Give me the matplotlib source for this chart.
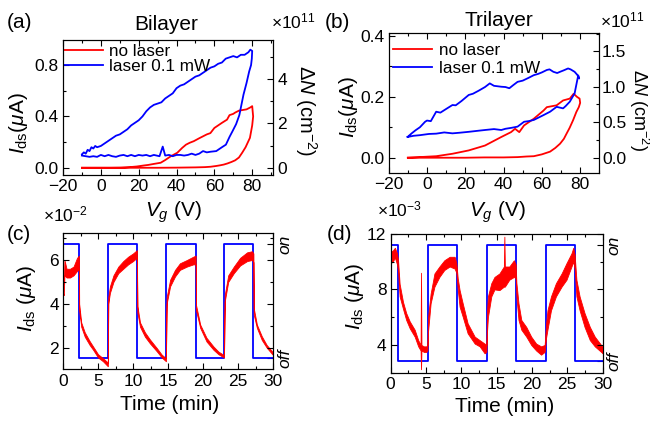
import matplotlib
matplotlib.use('Agg')
import matplotlib.pyplot as plt
from matplotlib.ticker import MultipleLocator, FormatStrFormatter

plt.rcParams['font.family'] = ['Liberation Sans', 'DejaVu Sans']
plt.rcParams['mathtext.fontset'] = 'custom'
plt.rcParams['mathtext.rm'] = 'Liberation Sans'
plt.rcParams['mathtext.it'] = 'Liberation Sans:italic'
plt.rcParams['mathtext.bf'] = 'Liberation Sans:bold'

# ---- (a) bilayer hysteresis ----
vg_a_dark = [-10, 0, 10, 20, 30, 40, 50, 55, 58, 61, 63, 65, 67, 69, 71, 73, 74.7, 76.5, 78.8, 80, 80.5,
             80, 79, 77, 75, 73, 71, 70, 68, 66.7, 64, 62, 60, 57.9, 56, 54, 52, 49.1, 47, 45, 43, 40.4,
             37, 34, 31.6, 28, 25, 22.8, 19, 16, 13, 10.5, 5, 0, -10]
ids_a_dark = [0, 0, 0, 0, 0, 0.001, 0.003, 0.005, 0.008, 0.014, 0.019, 0.025, 0.034, 0.045, 0.058, 0.08, 0.117, 0.16, 0.233, 0.33, 0.40,
              0.48, 0.47, 0.455, 0.45, 0.445, 0.43, 0.42, 0.41, 0.375, 0.35, 0.33, 0.31, 0.27, 0.26, 0.245, 0.23, 0.207, 0.195, 0.18, 0.155, 0.117,
              0.09, 0.06, 0.039, 0.03, 0.022, 0.018, 0.01, 0.006, 0.003, 0.001, 0, 0, 0]
vg_a_light = [-10, -9, -8, -7, -6, -5, -4, -3, -2, 0, 2, 4, 6, 8, 10, 12, 14, 16, 18, 20, 22, 24, 26, 28, 30,
              32, 34, 36, 38, 40, 42, 44, 46, 48, 50, 52, 54, 56, 58, 60, 62, 64, 66, 68, 70, 72, 74, 76, 78, 79, 80,
              79.8, 79.4, 78.4, 77, 75.4, 73.2, 71.5, 69.6, 68, 66.1, 64, 61, 58, 56, 54, 52, 50, 48, 46, 44, 42, 40,
              38, 36, 34, 32.7, 31, 28, 26, 24, 22, 20, 18, 16, 14, 12, 10, 8, 6, 4, 2, 0, -2, -4, -6, -8, -10]
ids_a_light = [0.105, 0.12, 0.11, 0.14, 0.13, 0.16, 0.15, 0.17, 0.16, 0.17, 0.19, 0.21, 0.23, 0.25, 0.26, 0.28, 0.30, 0.33, 0.35, 0.37, 0.40, 0.44, 0.47, 0.49, 0.50,
               0.51, 0.54, 0.56, 0.58, 0.62, 0.64, 0.65, 0.67, 0.69, 0.71, 0.72, 0.74, 0.76, 0.78, 0.79, 0.81, 0.82, 0.85, 0.86, 0.87, 0.86, 0.88, 0.88, 0.90, 0.92, 0.91,
               0.85, 0.80, 0.75, 0.66, 0.57, 0.41, 0.34, 0.285, 0.24, 0.18, 0.16, 0.13, 0.125, 0.12, 0.13, 0.11, 0.10, 0.11, 0.10, 0.095, 0.10, 0.10,
               0.09, 0.10, 0.095, 0.165, 0.09, 0.10, 0.09, 0.10, 0.095, 0.10, 0.09, 0.10, 0.09, 0.10, 0.095, 0.085, 0.09, 0.10, 0.09, 0.10, 0.085, 0.09, 0.085, 0.09, 0.095]

# ---- (b) trilayer hysteresis ----
vg_b_dark = [-10, 0, 10, 20, 30, 40, 47.3, 52, 55.8, 60, 64.3, 67, 69.5, 71.5, 72.9, 74.5, 76.3, 78, 79.3, 80,
             79.7, 78.3, 76.6, 74.6, 71.1, 67.7, 62.6, 60.9, 55.8, 50.7, 48.2, 46, 43.9, 38.8, 30.3, 21.8, 13.3, 4.8, -10]
ids_b_dark = [0, 0, 0, 0, 0.001, 0.001, 0.002, 0.004, 0.005, 0.011, 0.02, 0.032, 0.046, 0.062, 0.079, 0.098, 0.123, 0.15, 0.166, 0.18,
              0.194, 0.20, 0.21, 0.194, 0.188, 0.172, 0.166, 0.155, 0.128, 0.106, 0.084, 0.095, 0.084, 0.068, 0.04, 0.024, 0.013, 0.005, 0]
vg_b_light = [-10, -8, -6, -3.7, -1, 0, 2, 4.8, 7, 10, 13.3, 15, 18, 21.8, 24, 27, 30.3, 32.8, 35, 38.8, 41, 43, 45, 47.3, 50, 53,
              55.8, 58, 60, 62.6, 64, 66, 68, 69.5, 71.5, 73.7, 75, 77.1, 78.5, 79.5, 79, 78.5,
              77.1, 74.6, 72.5, 71.1, 67.7, 64.3, 60.9, 55.8, 53, 50.7, 47.3, 44, 41, 38.8, 35, 30.3, 26, 21.8, 17, 13.3, 9, 4.8, 1, -3.7, -7, -10.2]
ids_b_light = [0.069, 0.08, 0.09, 0.10, 0.118, 0.122, 0.12, 0.151, 0.148, 0.16, 0.173, 0.172, 0.186, 0.206, 0.21, 0.22, 0.232, 0.244, 0.236, 0.233, 0.232, 0.228, 0.238, 0.249, 0.253, 0.262,
               0.271, 0.275, 0.28, 0.288, 0.29, 0.282, 0.278, 0.282, 0.287, 0.293, 0.29, 0.282, 0.272, 0.26, 0.27, 0.255,
               0.211, 0.184, 0.17, 0.162, 0.167, 0.151, 0.14, 0.124, 0.12, 0.118, 0.102, 0.098, 0.095, 0.091, 0.094, 0.091, 0.088, 0.085, 0.082, 0.08, 0.083, 0.079, 0.078, 0.074, 0.072, 0.068]

# ---- (c) bilayer time response (x1e-2 uA), noise band low/high ----
t_c = [0, 0.1, 0.2, 0.5, 1.0, 1.5, 2.0, 2.28,
       2.3, 2.6, 3.1, 3.8, 4.3, 5.0, 5.7, 6.4,
       6.46, 6.7, 7.2, 7.9, 8.6, 9.3, 10.0, 10.55,
       10.62, 11.0, 11.7, 12.4, 13.4, 14.1, 14.7,
       14.8, 15.3, 16.0, 16.7, 17.7, 18.6, 18.95,
       19.0, 19.6, 20.5, 21.5, 22.2, 23.0,
       23.1, 23.6, 24.4, 25.3, 26.3, 27.0, 27.2,
       27.25, 27.7, 28.4, 29.1, 29.9, 30]
ids_c_low = [4.5, 4.4, 5.3, 5.2, 5.2, 5.3, 5.5, 5.6,
             3.7, 2.95, 2.5, 2.12, 1.9, 1.55, 1.38, 1.15,
             4.0, 4.5, 5.0, 5.4, 5.6, 5.8, 5.95, 6.1,
             3.6, 2.95, 2.5, 2.2, 1.83, 1.55, 1.38,
             4.0, 4.8, 5.25, 5.55, 5.7, 5.8, 5.8,
             3.7, 2.9, 2.28, 1.9, 1.7, 1.55,
             4.1, 5.0, 5.4, 5.75, 5.95, 6.0, 5.9,
             3.5, 2.9, 2.35, 2.0, 1.7, 1.68]
ids_c_high = [5.0, 4.9, 6.0, 5.6, 5.6, 5.7, 6.1, 6.2,
              4.0, 3.15, 2.7, 2.3, 2.05, 1.7, 1.52, 1.32,
              4.3, 4.8, 5.3, 5.7, 5.95, 6.15, 6.3, 6.45,
              3.9, 3.15, 2.7, 2.38, 1.98, 1.68, 1.52,
              4.3, 5.1, 5.55, 5.85, 6.0, 6.15, 6.2,
              3.95, 3.05, 2.45, 2.05, 1.82, 1.66,
              4.4, 5.3, 5.7, 6.1, 6.35, 6.4, 6.3,
              3.8, 3.05, 2.52, 2.12, 1.82, 1.8]
laser_t_c = [0, 2.29, 6.45, 10.6, 14.75, 18.95, 23.05, 27.2, 30]
laser_c = [1, 0, 1, 0, 1, 0, 1, 0, 0]

# ---- (d) trilayer time response (x1e-3 uA) ----
t_d = [0, 0.3, 0.6, 0.9, 1.05,
       1.27, 1.75, 2.2, 2.7, 3.4, 3.9, 4.24, 4.3, 4.36, 4.7, 5.05, 5.2,
       5.3, 5.4, 5.66, 6.2, 6.9, 7.6, 8.35, 9.06, 9.3,
       9.5, 9.76, 10.2, 10.9, 11.9, 12.6, 13.3, 13.55,
       13.65, 13.77, 14.25, 14.7, 15.4, 16.03, 16.1, 16.17, 16.8, 17.45, 17.7,
       17.8, 18.1, 18.5, 19.2, 19.9, 20.6, 21.3, 21.8,
       22.0, 22.2, 22.7, 23.4, 24.2, 24.9, 25.6, 25.85, 26.05,
       26.3, 26.75, 27.45, 28.2, 28.9, 29.8, 30]
ids_d_low = [9.9, 10.0, 10.3, 9.8, 9.3,
             7.5, 6.6, 5.8, 5.2, 4.6, 3.9, 3.6, 2.25, 3.6, 3.5, 3.5, 3.6,
             5.0, 5.55, 7.0, 8.2, 8.9, 9.4, 9.65, 9.5, 9.2,
             8.0, 6.76, 6.04, 4.84, 4.1, 3.9, 3.4, 3.5,
             5.0, 6.0, 7.5, 8.0, 7.95, 8.2, 8.2, 8.2, 8.7, 8.9, 8.8,
             7.5, 5.8, 5.1, 4.6, 4.0, 3.6, 3.3, 3.5,
             4.5, 5.1, 6.5, 7.5, 8.2, 8.7, 9.65, 10.0, 9.5,
             7.5, 6.5, 5.3, 4.35, 3.9, 3.5, 3.4]
ids_d_high = [10.7, 10.8, 11.0, 10.6, 10.1,
              8.4, 7.1, 6.3, 5.7, 5.1, 4.35, 4.0, 9.2, 4.0, 3.9, 3.9, 4.0,
              6.0, 6.5, 7.7, 9.15, 9.65, 10.1, 10.35, 10.35, 9.9,
              8.8, 7.96, 7.0, 5.56, 4.6, 4.35, 4.1, 4.0,
              6.5, 7.5, 8.45, 8.9, 9.15, 9.65, 11.8, 9.65, 9.65, 10.1, 9.8,
              8.5, 7.0, 5.8, 5.3, 4.6, 4.1, 3.9, 4.0,
              5.5, 6.5, 7.5, 8.45, 9.15, 9.9, 10.6, 11.0, 10.5,
              8.7, 7.5, 6.3, 5.3, 4.6, 4.0, 3.9]
laser_t_d = [0, 1.08, 5.24, 9.43, 13.58, 17.74, 21.93, 26.1, 30]
laser_d = [1, 0, 1, 0, 1, 0, 1, 0, 0]

RED = '#ff0000'
BLUE = '#0000ff'
TICK_FS = 12.5
LABEL_FS = 15

fig = plt.figure(figsize=(6.5, 4.26), dpi=100)


def fpos(x, y):
    # pixel position -> figure fraction
    return x / 650.0, 1 - y / 426.0


def style(ax, right=False):
    ax.tick_params(which='both', direction='in', top=True, right=right, labelsize=TICK_FS, pad=3)
    ax.tick_params(which='major', length=4, width=0.8)
    ax.tick_params(which='minor', length=2, width=0.8)
    for s in ax.spines.values():
        s.set_linewidth(0.8)


def ftext(x, y, s, **kw):
    fx, fy = fpos(x, y)
    fig.text(fx, fy, s, ha='center', va='center', **kw)


# (a)
ax_a = fig.add_axes([0.097, 0.589, 0.323, 0.317])
ax_a.plot(vg_a_dark, ids_a_dark, color=RED, lw=1.3, label='no laser')
ax_a.plot(vg_a_light, ids_a_light, color=BLUE, lw=1.3, label='laser 0.1 mW')
ax_a.set_xlim(-20, 91)
ax_a.set_ylim(-0.057, 0.995)
ax_a.xaxis.set_major_locator(MultipleLocator(20))
ax_a.xaxis.set_minor_locator(MultipleLocator(10))
ax_a.yaxis.set_major_locator(MultipleLocator(0.4))
ax_a.yaxis.set_minor_locator(MultipleLocator(0.2))
ax_a.yaxis.set_major_formatter(FormatStrFormatter('%.1f'))
style(ax_a)
ax_a.legend(loc='upper left', bbox_to_anchor=(-0.005, 0.985), frameon=False, fontsize=12.3,
            handlelength=2.3, handletextpad=0.35, labelspacing=0.0, borderpad=0.1, borderaxespad=0)
tw_a = ax_a.twinx()
tw_a.set_ylim(-0.33, 5.76)
tw_a.yaxis.set_major_locator(MultipleLocator(2))
tw_a.yaxis.set_minor_locator(MultipleLocator(1))
style(tw_a, right=True)
tw_a.tick_params(which='both', top=False)

# (b)
ax_b = fig.add_axes([0.598, 0.594, 0.324, 0.329])
ax_b.plot(vg_b_dark, ids_b_dark, color=RED, lw=1.3, label='no laser')
ax_b.plot(vg_b_light, ids_b_light, color=BLUE, lw=1.3, label='laser 0.1 mW')
ax_b.set_xlim(-20, 90)
ax_b.set_ylim(-0.05, 0.41)
ax_b.xaxis.set_major_locator(MultipleLocator(20))
ax_b.xaxis.set_minor_locator(MultipleLocator(10))
ax_b.yaxis.set_major_locator(MultipleLocator(0.2))
ax_b.yaxis.set_minor_locator(MultipleLocator(0.1))
ax_b.yaxis.set_major_formatter(FormatStrFormatter('%.1f'))
style(ax_b)
ax_b.legend(loc='upper left', bbox_to_anchor=(0.01, 0.94), frameon=False, fontsize=12.3,
            handlelength=2.3, handletextpad=0.4, labelspacing=0.2, borderpad=0.1, borderaxespad=0)
tw_b = ax_b.twinx()
tw_b.set_ylim(-0.215, 1.76)
tw_b.yaxis.set_major_locator(MultipleLocator(0.5))
tw_b.yaxis.set_minor_locator(MultipleLocator(0.25))
tw_b.yaxis.set_major_formatter(FormatStrFormatter('%.1f'))
style(tw_b, right=True)
tw_b.tick_params(which='both', top=False, pad=2)


def time_panel(rect, t, low, high, lt, ls, ylim, ymaj, ymin):
    ax = fig.add_axes(rect)
    tw = ax.twinx()
    tw.step(lt, ls, where='post', color=BLUE, lw=1.3)
    tw.set_ylim(-0.1, 1.1)
    tw.set_yticks([0, 1])
    tw.set_yticklabels(['off', 'on'], rotation=90, va='center', fontstyle='italic', fontsize=TICK_FS)
    style(tw, right=True)
    tw.tick_params(which='both', top=False, length=4)
    ax.fill_between(t, low, high, color=RED, lw=0.6, edgecolor=RED)
    ax.set_zorder(tw.get_zorder() + 1)
    ax.patch.set_visible(False)
    ax.set_xlim(0, 30)
    ax.set_ylim(*ylim)
    ax.xaxis.set_major_locator(MultipleLocator(5))
    ax.xaxis.set_minor_locator(MultipleLocator(2.5))
    ax.yaxis.set_major_locator(MultipleLocator(ymaj))
    ax.yaxis.set_minor_locator(MultipleLocator(ymin))
    style(ax, right=True)
    return ax


ax_c = time_panel([0.097, 0.133, 0.323, 0.321], t_c, ids_c_low, ids_c_high, laser_t_c, laser_c, (1.01, 7.25), 2, 1)
ax_d = time_panel([0.601, 0.125, 0.326, 0.326], t_d, ids_d_low, ids_d_high, laser_t_d, laser_d, (2.0, 12.0), 4, 2)

# labels
ids_label = r'$I_{\rm ds}$($\mu$A)'
ids_label2 = r'$I_{\rm ds}$ ($\mu$A)'
dn_label = r'$\Delta N$ (cm$^{-2}$)'
vg_label = r'$V_g$ (V)'

ftext(19, 23, '(a)', fontsize=LABEL_FS)
ftext(337, 22, '(b)', fontsize=LABEL_FS)
ftext(19, 234, '(c)', fontsize=LABEL_FS)
ftext(339, 234, '(d)', fontsize=LABEL_FS)
ftext(166, 25, 'Bilayer', fontsize=LABEL_FS)
ftext(499, 21, 'Trilayer', fontsize=LABEL_FS)
ftext(293, 21, r'$\times10^{11}$', fontsize=TICK_FS)
ftext(622, 20, r'$\times10^{11}$', fontsize=TICK_FS)
ftext(65, 214, r'$\times10^{-2}$', fontsize=TICK_FS)
ftext(399, 209, r'$\times10^{-3}$', fontsize=TICK_FS)

ftext(18.5, 123, ids_label, fontsize=LABEL_FS, rotation=90)
ftext(348, 107, ids_label, fontsize=LABEL_FS, rotation=90)
ftext(27, 298, ids_label2, fontsize=LABEL_FS, rotation=90)
ftext(354, 296, ids_label2, fontsize=LABEL_FS, rotation=90)
ftext(306, 111, dn_label, fontsize=LABEL_FS - 0.5, rotation=-90)
ftext(639, 110, dn_label, fontsize=13, rotation=-90)
ftext(173, 212, vg_label, fontsize=LABEL_FS)
ftext(497, 212, vg_label, fontsize=LABEL_FS)
ftext(170, 405, 'Time (min)', fontsize=LABEL_FS)
ftext(505, 406, 'Time (min)', fontsize=LABEL_FS)

fig.savefig('out.png', dpi=100)
